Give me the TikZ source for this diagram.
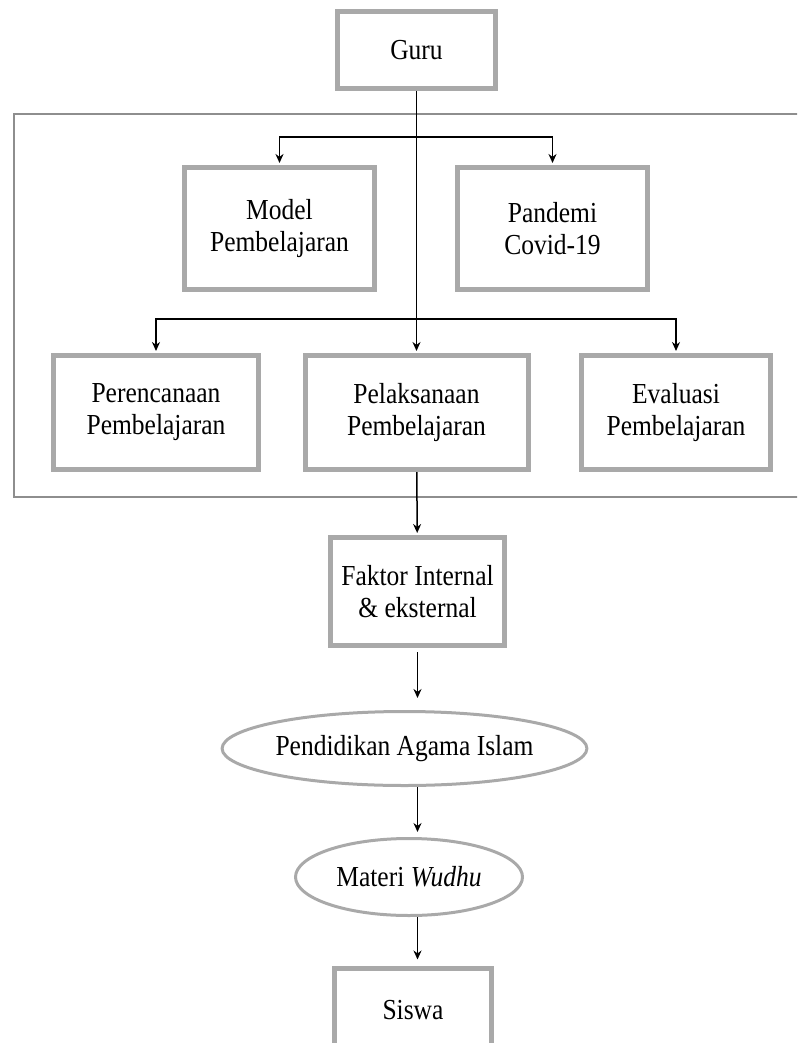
\documentclass[tikz,border=0pt]{standalone}
\usepackage{fontspec}
\setmainfont[FakeStretch=0.88]{Liberation Serif}
\usetikzlibrary{arrows.meta,shapes.geometric}
\definecolor{boxgray}{HTML}{A9A9A9}
\definecolor{framegray}{HTML}{8E8E8E}
\tikzset{
box/.style={draw=boxgray, line width=5pt, align=center, inner sep=0pt,
  font=\fontsize{29}{32}\selectfont},
oval/.style={ellipse, draw=boxgray, line width=3pt, inner sep=0pt,
  font=\fontsize{29}{32}\selectfont},
arr/.style={-{Stealth[length=9pt,width=8pt]}, line width=1.5pt}
}
\begin{document}
\begin{tikzpicture}[x=1pt,y=-1pt]
\clip (0,0) rectangle (797,1043);
\draw[framegray, line width=1.5pt] (14,114) rectangle (812,497);
\node[box, minimum width=158, minimum height=77] (guru) at (416.5,50) {Guru};
\node[box, minimum width=190, minimum height=122] (model) at (279.5,228.5) {Model\\Pembelajaran};
\node[box, minimum width=190, minimum height=122] (pandemi) at (552.5,228.5) {Pandemi\\Covid-19};
\node[box, minimum width=205, minimum height=114] (perencanaan) at (156,412.5) {Perencanaan\\Pembelajaran};
\node[box, minimum width=223, minimum height=114] (pelaksanaan) at (416.5,412.5) {Pelaksanaan\\Pembelajaran};
\node[box, minimum width=189, minimum height=114] (evaluasi) at (676,412.5) {Evaluasi\\Pembelajaran};
\node[box, minimum width=174, minimum height=108] (faktor) at (417.5,591.5) {Faktor Internal\\\& eksternal};
\node[oval, minimum width=322, minimum height=74] (pai) at (404.5,748.5) {Pendidikan Agama Islam};
\node[oval, minimum width=227, minimum height=77] (materi) at (409,877) {Materi \textit{Wudhu}};
\node[box, minimum width=157, minimum height=84] (siswa) at (413,1010) {Siswa};
% percabangan dari guru
\coordinate (cabang1) at (416.5,137);
\coordinate (cabang2) at (416.5,319);
\draw[arr, shorten >=2pt] (guru) -- (pelaksanaan);
\draw[arr, shorten >=2pt] (cabang1) -| (model);
\draw[arr, shorten >=2pt] (cabang1) -| (pandemi);
\draw[arr, shorten >=2pt] (cabang2) -| (perencanaan);
\draw[arr, shorten >=2pt] (cabang2) -| (evaluasi);
% alur ke bawah
\draw[arr, shorten >=2pt] (pelaksanaan) -- (faktor);
\draw[arr, shorten <=4pt, shorten >=12pt] (faktor.south) -- (faktor.south |- pai.north);
\draw[arr, shorten >=5pt] (pai.south -| faktor.south) -- (faktor.south |- materi.north);
\draw[arr, shorten >=6pt] (materi.south -| faktor.south) -- (faktor.south |- siswa.north);
\end{tikzpicture}
\end{document}
